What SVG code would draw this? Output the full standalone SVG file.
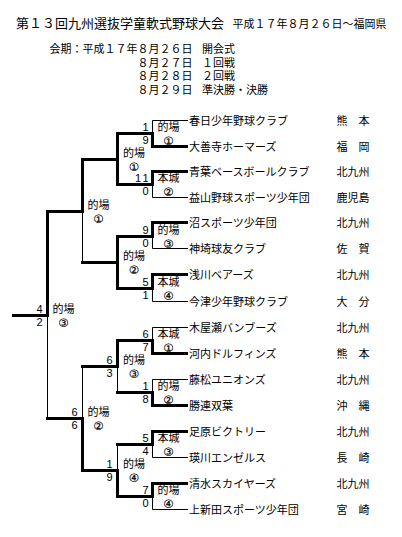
<svg xmlns="http://www.w3.org/2000/svg" width="402" height="537" viewBox="0 0 402 537">
<style>
text{font-family:"Noto Sans CJK JP","Noto Sans CJK SC",sans-serif;font-size:11px;fill:#000}
.ti{font-size:13px}
.c{font-family:"DejaVu Sans",sans-serif;font-size:11.5px;text-anchor:middle;stroke:#000;stroke-width:0.2}
.s{font-family:"Liberation Sans",Arial,sans-serif;font-size:11px;text-anchor:end}
.thin{stroke:#000;stroke-width:1;fill:none}
.thick{stroke:#000;stroke-width:3;fill:none;stroke-linejoin:miter;stroke-linecap:butt}
</style>
<rect width="402" height="537" fill="#fff"/>
<g id="title">
<text class="ti" x="16" y="28">第１３回九州選抜学童軟式野球大会</text>
<text x="232.5" y="27.5">平成１７年８月２６日～福岡県</text>
</g>
<g id="schedule">
<text><tspan x="49.5" y="53">会期：平成１７年８月２６日</tspan><tspan x="137.5" y="66.5">８月２７日</tspan><tspan x="137.5" y="80">８月２８日</tspan><tspan x="137.5" y="93.5">８月２９日</tspan></text>
<text><tspan x="202" y="53">開会式</tspan><tspan x="202" y="66.5">１回戦</tspan><tspan x="202" y="80">２回戦</tspan><tspan x="202" y="93.5">準決勝・決勝</tspan></text>
</g>
<g id="connectors">
<path class="thin" d="M152.5,120.5H188M152.5,146.5H188M152.5,171.5H188M152.5,197.5H188M152.5,222.5H188M152.5,248.5H188M152.5,274.5H188M152.5,301.5H188M152.5,327.5H188M152.5,353.5H188M152.5,379.5H188M152.5,405.5H188M152.5,431.5H188M152.5,457.5H188M152.5,483.5H188M152.5,509.5H188
M152.5,120.5V146.5M152.5,171.5V197.5M152.5,222.5V248.5M152.5,274.5V301.5M152.5,327.5V353.5M152.5,379.5V405.5M152.5,431.5V457.5M152.5,483.5V509.5
M117.5,133.5H152.5M117.5,184.5H152.5M117.5,236.5H152.5M117.5,288.5H152.5M117.5,340.5H152.5M117.5,392.5H152.5M117.5,444.5H152.5M117.5,496.5H152.5
M117.5,133.5V184.5M117.5,236.5V288.5M117.5,340.5V392.5M117.5,444.5V496.5
M82.5,159.5H117.5M82.5,262.5H117.5M82.5,366.5H117.5M82.5,470.5H117.5
M82.5,159.5V262.5M82.5,366.5V470.5
M47.5,211.5H82.5M47.5,418.5H82.5
M47.5,211.5V418.5M12,315.5H47.5"/>
<path class="thick" d="M188,146.5H152.5V133.5H117.5V184.5H152.5V171.5H188"/>
<path class="thick" d="M117.5,159.5H82.5V211.5H47.5V315.5H12"/>
<path class="thick" d="M188,222.5H152.5V236.5H117.5V288.5H152.5V274.5H188"/>
<path class="thick" d="M117.5,262.5H81"/>
<path class="thick" d="M188,353.5H152.5V340.5H117.5V366.5H81"/>
<path class="thick" d="M188,405.5H152.5V392.5H116"/>
<path class="thick" d="M188,431.5H152.5V444.5H116"/>
<path class="thick" d="M188,483.5H152.5V496.5H117.5V470.5H82.5V418.5H46"/>
</g>
<g id="team-01"><text x="189" y="124.5">春日少年野球クラブ</text><text x="336.5" y="124.5">熊　本</text></g>
<g id="team-02"><text x="189" y="150.5">大善寺ホーマーズ</text><text x="336.5" y="150.5">福　岡</text></g>
<g id="team-03"><text x="189" y="175.5">青葉ベースボールクラブ</text><text x="336.5" y="175.5">北九州</text></g>
<g id="team-04"><text x="189" y="201.5">益山野球スポーツ少年団</text><text x="336.5" y="201.5">鹿児島</text></g>
<g id="team-05"><text x="189" y="226.5">沼スポーツ少年団</text><text x="336.5" y="226.5">北九州</text></g>
<g id="team-06"><text x="189" y="252.5">神埼球友クラブ</text><text x="336.5" y="252.5">佐　賀</text></g>
<g id="team-07"><text x="189" y="278.5">浅川ベアーズ</text><text x="336.5" y="278.5">北九州</text></g>
<g id="team-08"><text x="189" y="305.5">今津少年野球クラブ</text><text x="336.5" y="305.5">大　分</text></g>
<g id="team-09"><text x="189" y="331.5">木屋瀬バンブーズ</text><text x="336.5" y="331.5">北九州</text></g>
<g id="team-10"><text x="189" y="357.5">河内ドルフィンズ</text><text x="336.5" y="357.5">熊　本</text></g>
<g id="team-11"><text x="189" y="383.5">藤松ユニオンズ</text><text x="336.5" y="383.5">北九州</text></g>
<g id="team-12"><text x="189" y="409.5">勝連双葉</text><text x="336.5" y="409.5">沖　縄</text></g>
<g id="team-13"><text x="189" y="435.5">足原ビクトリー</text><text x="336.5" y="435.5">北九州</text></g>
<g id="team-14"><text x="189" y="461.5">瑛川エンゼルス</text><text x="336.5" y="461.5">長　崎</text></g>
<g id="team-15"><text x="189" y="487.5">清水スカイヤーズ</text><text x="336.5" y="487.5">北九州</text></g>
<g id="team-16"><text x="189" y="513.5">上新田スポーツ少年団</text><text x="336.5" y="513.5">宮　崎</text></g>
<g id="r1-m1"><text class="s"><tspan x="148.5" y="131">1</tspan><tspan x="148.5" y="144">9</tspan></text><text x="157.5" y="130.5">的場<tspan class="c" x="168.5" y="144.7">①</tspan></text></g>
<g id="r1-m2"><text class="s"><tspan x="141" y="182">1</tspan><tspan x="148.5" y="182">1</tspan><tspan x="148.5" y="195">0</tspan></text><text x="157.5" y="181.5">本城<tspan class="c" x="168.5" y="195.7">②</tspan></text></g>
<g id="r1-m3"><text class="s"><tspan x="148.5" y="234">9</tspan><tspan x="148.5" y="247">0</tspan></text><text x="157.5" y="233.5">的場<tspan class="c" x="168.5" y="247.7">③</tspan></text></g>
<g id="r1-m4"><text class="s"><tspan x="148.5" y="286">5</tspan><tspan x="148.5" y="299">1</tspan></text><text x="157.5" y="285.5">本城<tspan class="c" x="168.5" y="299.7">④</tspan></text></g>
<g id="r1-m5"><text class="s"><tspan x="148.5" y="338">6</tspan><tspan x="148.5" y="351">7</tspan></text><text x="157.5" y="337.5">本城<tspan class="c" x="168.5" y="351.7">①</tspan></text></g>
<g id="r1-m6"><text class="s"><tspan x="148.5" y="390">1</tspan><tspan x="148.5" y="403">8</tspan></text><text x="157.5" y="389.5">的場<tspan class="c" x="168.5" y="403.7">②</tspan></text></g>
<g id="r1-m7"><text class="s"><tspan x="148.5" y="442">5</tspan><tspan x="148.5" y="455">4</tspan></text><text x="157.5" y="441.5">本城<tspan class="c" x="168.5" y="455.7">③</tspan></text></g>
<g id="r1-m8"><text class="s"><tspan x="148.5" y="494">7</tspan><tspan x="148.5" y="507">0</tspan></text><text x="157.5" y="493.5">的場<tspan class="c" x="168.5" y="507.7">④</tspan></text></g>
<g id="r2-m1"><text x="123" y="156.5">的場<tspan class="c" x="134" y="170.7">①</tspan></text></g>
<g id="r2-m2"><text x="123" y="259.5">的場<tspan class="c" x="134" y="273.7">②</tspan></text></g>
<g id="r2-m3"><text class="s"><tspan x="112.5" y="364">6</tspan><tspan x="112.5" y="377">3</tspan></text><text x="123" y="363.5">的場<tspan class="c" x="134" y="377.7">③</tspan></text></g>
<g id="r2-m4"><text class="s"><tspan x="112.5" y="468">1</tspan><tspan x="112.5" y="481">9</tspan></text><text x="123" y="467.5">的場<tspan class="c" x="134" y="481.7">④</tspan></text></g>
<g id="r3-m1"><text x="87.5" y="208.5">的場<tspan class="c" x="98.5" y="222.7">①</tspan></text></g>
<g id="r3-m2"><text class="s"><tspan x="77.5" y="416">6</tspan><tspan x="77.5" y="429">6</tspan></text><text x="87.5" y="415.5">的場<tspan class="c" x="98.5" y="429.7">②</tspan></text></g>
<g id="final"><text class="s"><tspan x="42.5" y="313">4</tspan><tspan x="42.5" y="326">2</tspan></text><text x="52.5" y="312.5">的場<tspan class="c" x="63.5" y="326.7">③</tspan></text></g>
</svg>
